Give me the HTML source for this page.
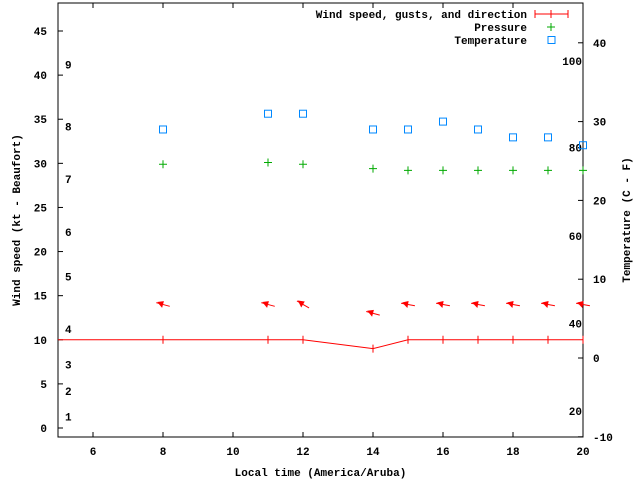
<!DOCTYPE html>
<html><head><meta charset="utf-8"><style>
body{margin:0;background:#fff}
svg text{font-family:"Liberation Mono",monospace;font-size:11px;font-weight:bold;fill:#000}
</style></head><body>
<svg id="c" width="640" height="480" xmlns="http://www.w3.org/2000/svg"></svg>
<script>
const times=[8,11,12,14,15,16,17,18,19,20];
const windSpeed=[10,10,10,9,10,10,10,10,10,10];
const arrowLevel=[14,14,14,13,14,14,14,14,14,14];
const windDir=[105,105,120,105,100,100,100,100,100,100];
const pressure=[29.9,30.1,29.9,29.4,29.2,29.2,29.2,29.2,29.2,29.2];
const temperature=[29,31,31,29,29,30,29,28,28,27];
const xTicks=[6,8,10,12,14,16,18,20];
const yTicks=[0,5,10,15,20,25,30,35,40,45];
const y2Ticks=[-10,0,10,20,30,40];
const beaufort=[[1,1.3],[2,4.2],[3,7.2],[4,11.2],[5,17.2],[6,22.2],[7,28.2],[8,34.2],[9,41.2]];
const fahrenheit=[[100,37.7],[80,26.7],[60,15.5],[40,4.4],[20,-6.7]];
const L=58,R=583,T=3,B=437;
const X=v=>L+(v-5)*35;
const Y=v=>428-v*8.822;
const Y2=v=>358-v*7.88;
const s=document.getElementById('c');
const NS='http://www.w3.org/2000/svg';
function mk(tag,at,txt){const e=document.createElementNS(NS,tag);for(const k in at)e.setAttribute(k,at[k]);if(txt!=null)e.textContent=txt;s.appendChild(e);return e;}
let e;
e=mk('rect',{x:L,y:T,width:R-L,height:B-T,fill:'none',stroke:'#000','stroke-width':1});


xTicks.forEach(t=>{
 e=mk('line',{x1:X(t),x2:X(t),y1:B,y2:B-5,stroke:'#000'});
 
 
 e=mk('line',{x1:X(t),x2:X(t),y1:T,y2:T+5,stroke:'#000'});
 
 
 e=mk('text',{x:X(t),y:B+18,'text-anchor':'middle'},t);
 
 
});
yTicks.forEach(t=>{
 e=mk('line',{x1:L,x2:L+5,y1:Y(t),y2:Y(t),stroke:'#000'});
 
 
 e=mk('text',{x:L-11,y:Y(t)+4,'text-anchor':'end'},t);
 
 
});
y2Ticks.forEach(t=>{
 e=mk('line',{x1:R,x2:R-5,y1:Y2(t),y2:Y2(t),stroke:'#000'});
 
 
 e=mk('text',{x:R+10,y:Y2(t)+4},t);
 
 
});
beaufort.forEach(b=>{
 e=mk('text',{x:65,y:Y(b[1])+4},b[0]);
 
 
});
fahrenheit.forEach(f=>{
 e=mk('text',{x:R-1,y:Y2(f[1])+4,'text-anchor':'end'},f[0]);
 
 
});
e=mk('text',{x:(L+R)/2,y:476,'text-anchor':'middle'},'Local time (America/Aruba)');


e=mk('text',{x:0,y:0,'text-anchor':'middle',transform:'translate(20,220) rotate(-90)'},'Wind speed (kt - Beaufort)');


e=mk('text',{x:0,y:0,'text-anchor':'middle',transform:'translate(630,220) rotate(-90)'},'Temperature (C - F)');


// wind line
const pts=[[L,Y(windSpeed[0])]].concat(times.map((t,i)=>[X(t),Y(windSpeed[i])]));
e=mk('polyline',{points:pts.map(p=>p.join(',')).join(' '),fill:'none',stroke:'#f00'});


times.forEach((t,i)=>{
 e=mk('line',{x1:X(t),x2:X(t),y1:Y(windSpeed[i])-4,y2:Y(windSpeed[i])+4,stroke:'#f00'});
 
 
 const a=(windDir[i]-90)*Math.PI/180, cx=X(t), cy=Y(arrowLevel[i]);
 const dx=Math.cos(a)*7, dy=Math.sin(a)*7;
 const hx=cx-dx, hy=cy-dy, tx=cx+dx, ty=cy+dy;
 const ux=-dx/7, uy=-dy/7;
 const g=mk('g',{});
 
 
 e=mk('line',{x1:tx,y1:ty,x2:hx,y2:hy,stroke:'#f00'});
 
 
 const bx=hx-ux*7, by=hy-uy*7, px=-uy*3.5, py=ux*3.5;
 e=mk('polygon',{points:`${hx-ux},${hy-uy-1} ${bx+px},${by+py} ${bx-px},${by-py}`,fill:'#f00'});
 
 
});
times.forEach((t,i)=>{
 const x=X(t),y=Y(pressure[i]);
 e=mk('path',{d:`M${x-4},${y}H${x+4}M${x},${y-4}V${y+4}`,stroke:'#0a0',fill:'none'});
 
 
 const y2=Y2(temperature[i]);
 e=mk('rect',{x:x-3.5,y:y2-3.5,width:7,height:7,fill:'none',stroke:'#08f'});
 
 
});
// legend
e=mk('text',{x:527,y:18,'text-anchor':'end'},'Wind speed, gusts, and direction');


e=mk('path',{d:'M535,14H568M535,10V18M568,10V18M551,10V18',stroke:'#f00',fill:'none'});


e=mk('text',{x:527,y:31,'text-anchor':'end'},'Pressure');


e=mk('path',{d:'M547,27H555M551,23V31',stroke:'#0a0',fill:'none'});


e=mk('text',{x:527,y:44,'text-anchor':'end'},'Temperature');


e=mk('rect',{x:548,y:36.5,width:7,height:7,fill:'none',stroke:'#08f'});


</script>
</body></html>
